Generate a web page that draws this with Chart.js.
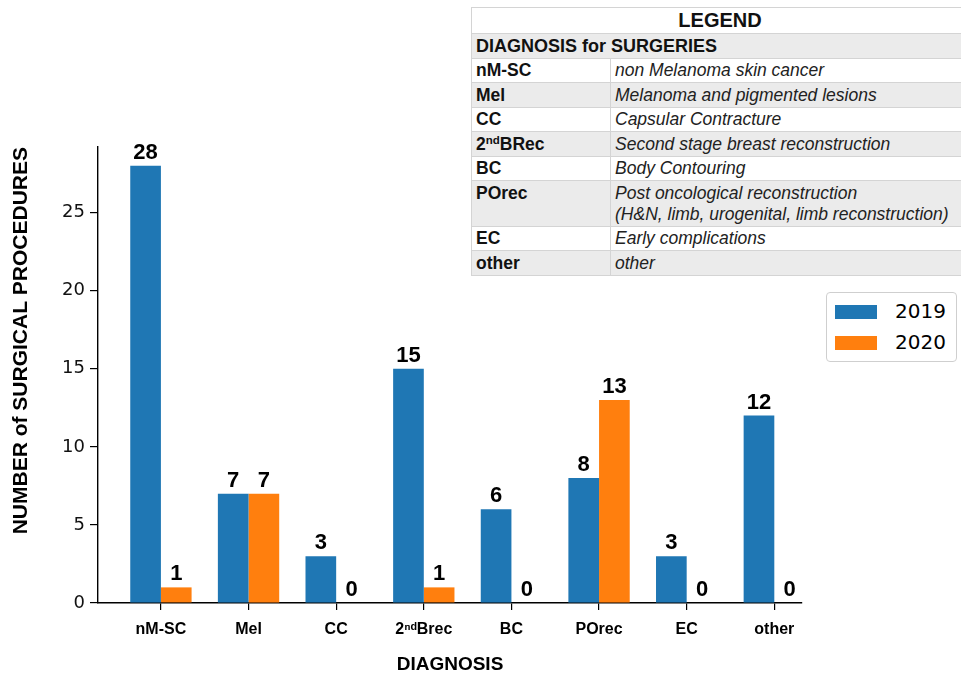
<!DOCTYPE html>
<html>
<head>
<meta charset="utf-8">
<script src="https://cdn.jsdelivr.net/npm/chart.js@4/dist/chart.umd.min.js"></script>
<style>
  html, body { margin: 0; padding: 0; background: #fff; }
  body { width: 961px; height: 677px; overflow: hidden; position: relative; font-family: "Liberation Sans", Arial, sans-serif; }
  #wrap { position: absolute; left: 0; top: 0; width: 961px; height: 677px; }
  #legtable { position: absolute; left: 471px; top: 7px; width: 520px; border-collapse: collapse; background: #fff; font-size: 17.5px; color: #111; }
  #legtable td { border: 1.5px solid #d4d4d4; padding: 0 4px; line-height: 21px; vertical-align: middle; white-space: nowrap; }
  #legtable tr.g td { background: #ebebeb; }
  #legtable td.k { font-weight: bold; width: 130px; }
  #legtable td.v { font-style: italic; color: #222; }
  #legtable sup { font-size: 11.5px; line-height: 0; vertical-align: 6px; }
  #leg { position: absolute; left: 826px; top: 292px; width: 129px; height: 68px; border: 1px solid #cfcfcf; border-radius: 4px; background: #fff; font-family: "DejaVu Sans", sans-serif; font-size: 20px; color: #000; }
  #leg .it { position: absolute; left: 8px; height: 20px; }
  #leg .sw { position: absolute; left: 0; top: 3px; width: 42px; height: 14px; }
  #leg .tx { position: absolute; left: 60px; top: -2px; line-height: 22px; white-space: nowrap; }
</style>
</head>
<body>
<div id="wrap"><canvas id="c"></canvas></div>

<table id="legtable">
  <tr style="height:26px"><td colspan="2" style="text-align:center;font-weight:bold;font-size:20px;padding-left:0;padding-right:22px">LEGEND</td></tr>
  <tr class="g" style="height:25px"><td colspan="2" style="font-weight:bold;font-size:18px">DIAGNOSIS for SURGERIES</td></tr>
  <tr style="height:24px"><td class="k">nM-SC</td><td class="v">non Melanoma skin cancer</td></tr>
  <tr class="g" style="height:25px"><td class="k">Mel</td><td class="v">Melanoma and pigmented lesions</td></tr>
  <tr style="height:24px"><td class="k">CC</td><td class="v">Capsular Contracture</td></tr>
  <tr class="g" style="height:25px"><td class="k">2<sup>nd</sup>BRec</td><td class="v">Second stage breast reconstruction</td></tr>
  <tr style="height:24px"><td class="k">BC</td><td class="v">Body Contouring</td></tr>
  <tr class="g" style="height:46px"><td class="k" style="vertical-align:top;padding-top:2px">POrec</td><td class="v">Post oncological reconstruction<br>(H&amp;N, limb, urogenital, limb reconstruction)</td></tr>
  <tr style="height:24px"><td class="k">EC</td><td class="v">Early complications</td></tr>
  <tr class="g" style="height:25px"><td class="k">other</td><td class="v">other</td></tr>
</table>

<div id="leg"></div>

<script>
// ---- data ----
const categories = ["nM-SC", "Mel", "CC", "2\u207F\u1D48Brec", "BC", "POrec", "EC", "other"];
const years = ["2019", "2020"];
const values2019 = [28, 7, 3, 15, 6, 8, 3, 12];
const values2020 = [1, 7, 0, 1, 0, 13, 0, 0];
const yTicks = [0, 5, 10, 15, 20, 25];
const seriesColors = ["#1f77b4", "#ff7f0e"];

const toPoints = (vals) => vals.map((v, i) => ({ x: i, y: v }));

const valueLabels = {
  id: 'valueLabels',
  afterDatasetsDraw(chart) {
    const ctx = chart.ctx;
    ctx.save();
    ctx.font = 'bold 22px "Liberation Sans", Arial, sans-serif';
    ctx.fillStyle = '#000';
    ctx.textAlign = 'center';
    ctx.textBaseline = 'alphabetic';
    chart.data.datasets.forEach((ds, di) => {
      const meta = chart.getDatasetMeta(di);
      meta.data.forEach((el, i) => {
        ctx.fillText(String(ds.data[i].y), el.x, el.y - 7);
      });
    });
    ctx.restore();
  }
};

const chart = new Chart(document.getElementById('c'), {
  type: 'bar',
  data: {
    datasets: [
      { label: years[0], data: toPoints(values2019), backgroundColor: seriesColors[0] },
      { label: years[1], data: toPoints(values2020), backgroundColor: seriesColors[1] }
    ]
  },
  options: {
    responsive: true,
    maintainAspectRatio: false,
    animation: false,
    events: [],
    layout: { padding: { left: 6, top: 147, right: 159, bottom: 0 } },
    datasets: { bar: { categoryPercentage: 0.7, barPercentage: 1.0, borderWidth: 0 } },
    plugins: { legend: { display: false }, tooltip: { enabled: false } },
    scales: {
      x: {
        type: 'linear',
        offset: false,
        min: -0.718,
        max: 7.316,
        grid: { offset: false, drawOnChartArea: false, drawTicks: true, tickLength: 7, color: '#000', lineWidth: 1.2 },
        border: { display: true, color: '#000', width: 1.4 },
        ticks: {
          stepSize: 1,
          includeBounds: false,
          autoSkip: false,
          maxRotation: 0,
          padding: 10,
          color: '#000',
          font: { family: '"Liberation Sans", Arial, sans-serif', weight: 'bold', size: 16 },
          callback: (v) => (Number.isInteger(v) && categories[v] !== undefined) ? categories[v] : ''
        },
        title: {
          display: true,
          text: 'DIAGNOSIS',
          color: '#000',
          font: { family: '"Liberation Sans", Arial, sans-serif', weight: 'bold', size: 19 },
          padding: { top: 0, bottom: 1 }
        },
        afterFit: (s) => { s.height = 74; }
      },
      y: {
        min: 0,
        max: 29.2,
        grid: { drawOnChartArea: false, drawTicks: true, tickLength: 8, color: '#000', lineWidth: 1.2 },
        border: { display: true, color: '#000', width: 1.4 },
        afterBuildTicks: (s) => { s.ticks = yTicks.map(v => ({ value: v })); },
        ticks: {
          padding: 5,
          color: '#111',
          font: { family: '"DejaVu Sans", sans-serif', size: 18 }
        },
        title: {
          display: true,
          text: 'NUMBER of SURGICAL PROCEDURES',
          align: 'end',
          color: '#000',
          font: { family: '"Liberation Sans", Arial, sans-serif', weight: 'bold', size: 21 },
          padding: { top: 3, bottom: 0 }
        },
        afterFit: (s) => { s.width = 92; }
      }
    }
  },
  plugins: [valueLabels]
});

// HTML legend built from the chart's datasets
const leg = document.getElementById('leg');
chart.data.datasets.forEach((ds, i) => {
  const it = document.createElement('div');
  it.className = 'it';
  it.style.top = (9 + i * 31) + 'px';
  const sw = document.createElement('div');
  sw.className = 'sw';
  sw.style.background = ds.backgroundColor;
  const tx = document.createElement('div');
  tx.className = 'tx';
  tx.textContent = ds.label;
  it.appendChild(sw); it.appendChild(tx);
  leg.appendChild(it);
});
</script>
</body>
</html>
